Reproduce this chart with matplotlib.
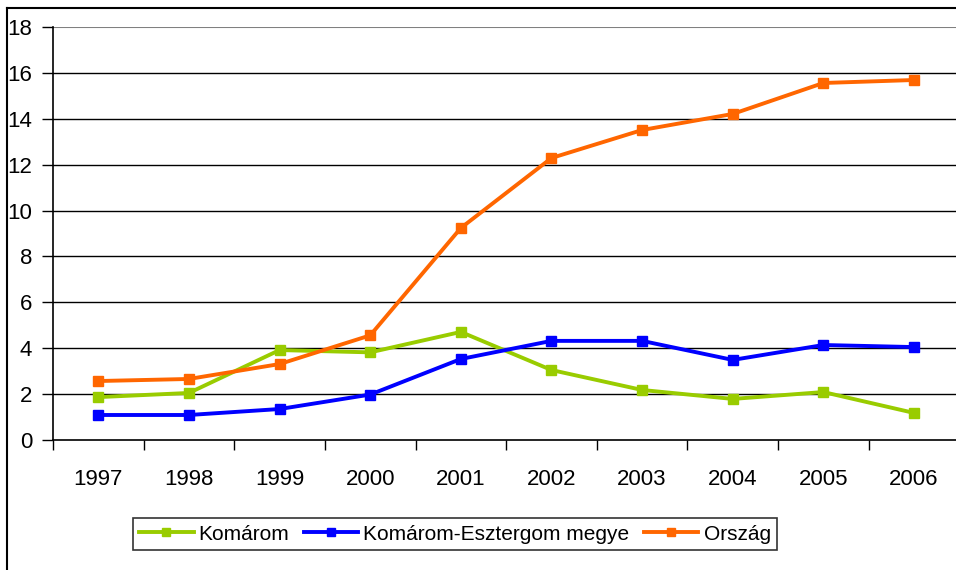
import matplotlib
matplotlib.use("Agg")
import matplotlib.pyplot as plt
from matplotlib.lines import Line2D

plt.rcParams['font.family'] = ['Liberation Sans', 'DejaVu Sans']

years = ['1997', '1998', '1999', '2000', '2001', '2002', '2003', '2004', '2005', '2006']
komarom = [1.87, 2.05, 3.92, 3.82, 4.71, 3.05, 2.18, 1.79, 2.09, 1.18]
megye = [1.09, 1.09, 1.35, 1.98, 3.53, 4.32, 4.32, 3.49, 4.14, 4.05]
orszag = [2.57, 2.66, 3.31, 4.56, 9.24, 12.29, 13.51, 14.21, 15.56, 15.69]
labels = ['Komárom', 'Komárom-Esztergom megye', 'Ország']
colors = ['#99CC00', '#0000FF', '#FF6600']

W, H = 956, 570
fig = plt.figure(figsize=(W / 100, H / 100), dpi=100)
ax = fig.add_axes([53 / W, 130 / H, 906.3 / W, 413 / H])

x = list(range(len(years)))
for vals, lab, col in zip([komarom, megye, orszag], labels, colors):
    ax.plot(x, vals, color=col, lw=2.8, marker='s', ms=7, label=lab, zorder=3)

ax.set_xlim(-0.5, len(years) - 0.5)
ax.set_ylim(0, 18)
ax.set_yticks(range(0, 19, 2))
ax.set_xticks(x)
ax.set_xticklabels(years)
ax.set_xticks([i - 0.5 for i in range(len(years) + 1)], minor=True)
ax.tick_params(axis='x', which='major', length=0, pad=21, labelsize=16)
ax.tick_params(axis='x', which='minor', length=7, width=1, direction='out')
ax.tick_params(axis='y', length=8, width=1, direction='out', labelsize=16, pad=7)

for v in range(2, 17, 2):
    ax.axhline(v, color='black', lw=1, zorder=1)
ax.axhline(18, color='#808080', lw=1.5, zorder=1)

for s in ['top', 'right']:
    ax.spines[s].set_visible(False)
ax.spines['left'].set_linewidth(1.2)
ax.spines['bottom'].set_linewidth(1.2)

# outer chart border (left and top)
fig.add_artist(Line2D([7 / W, 7 / W], [0, 1 - 8 / H], color='black', lw=1.5))
fig.add_artist(Line2D([7 / W, 1], [1 - 8 / H, 1 - 8 / H], color='black', lw=1.5))

leg = fig.legend(loc='center', bbox_to_anchor=(455 / W, 1 - 534 / H), ncol=3,
                 fontsize=15, frameon=True, fancybox=False, edgecolor='black',
                 handlelength=2.6, handletextpad=0.25, columnspacing=0.7,
                 borderpad=0.3, markerscale=0.8)
leg.get_frame().set_linewidth(1.2)

fig.savefig('out.png', dpi=100)
